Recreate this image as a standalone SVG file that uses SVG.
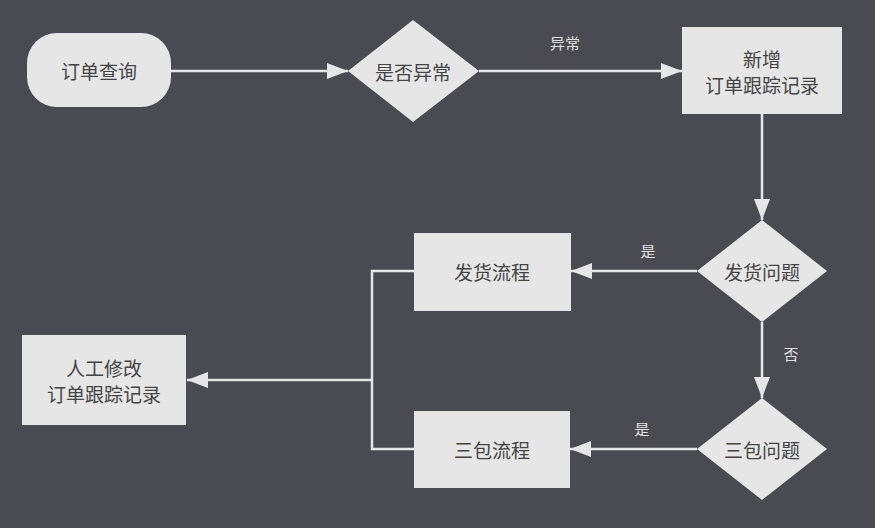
<svg xmlns="http://www.w3.org/2000/svg" width="875" height="528" viewBox="0 0 875 528">
<style>
.node{fill:#e6e6e6;stroke:none}
.t{font-family:"Noto Sans CJK SC","Liberation Sans",sans-serif;font-size:19px;fill:#444;text-anchor:middle;dominant-baseline:central}
.lbl{font-family:"Noto Sans CJK SC","Liberation Sans",sans-serif;font-size:15px;fill:#e0e0e0;text-anchor:middle;dominant-baseline:central}
.c{fill:none;stroke:#e6e6e6;stroke-width:2.5}
</style>
<defs>
<marker id="ah" markerUnits="userSpaceOnUse" markerWidth="22" markerHeight="18" refX="21" refY="9" orient="auto">
<path d="M0,1 L21,9 L0,17 Z" fill="#e6e6e6"/>
</marker>
</defs>
<rect width="875" height="528" fill="#4a4b52"/>
<g id="connectors">
<path class="c" d="M171,71 H348" marker-end="url(#ah)"/>
<path class="c" d="M479,71 H682" marker-end="url(#ah)"/>
<path class="c" d="M762,114 V220" marker-end="url(#ah)"/>
<path class="c" d="M697,271 H571" marker-end="url(#ah)"/>
<path class="c" d="M762,322 V398" marker-end="url(#ah)"/>
<path class="c" d="M697,449 H570" marker-end="url(#ah)"/>
<path class="c" d="M415,271 H372 V449 H415"/>
<path class="c" d="M372,380 H187" marker-end="url(#ah)"/>
<text class="lbl" x="565" y="42">异常</text>
<text class="lbl" x="648" y="250">是</text>
<text class="lbl" x="791" y="353">否</text>
<text class="lbl" x="642" y="428">是</text>
</g>
<g id="n1">
<rect class="node" x="27" y="33" width="144" height="74" rx="30"/>
<text class="t" x="99" y="70">订单查询</text>
</g>
<g id="n2">
<path class="node" d="M413,20 L479,71 L413,122 L348,71 Z"/>
<text class="t" x="413" y="71">是否异常</text>
</g>
<g id="n3">
<rect class="node" x="682" y="27" width="160" height="87"/>
<text class="t" x="762" y="58">新增</text>
<text class="t" x="762" y="84">订单跟踪记录</text>
</g>
<g id="n4">
<path class="node" d="M762,220 L827,271 L762,322 L697,271 Z"/>
<text class="t" x="762" y="271">发货问题</text>
</g>
<g id="n5">
<path class="node" d="M762,398 L827,449 L762,500 L697,449 Z"/>
<text class="t" x="762" y="449">三包问题</text>
</g>
<g id="n6">
<rect class="node" x="414" y="233" width="157" height="78"/>
<text class="t" x="492" y="271">发货流程</text>
</g>
<g id="n7">
<rect class="node" x="414" y="411" width="156" height="77"/>
<text class="t" x="492" y="449">三包流程</text>
</g>
<g id="n8">
<rect class="node" x="22" y="335" width="164" height="90"/>
<text class="t" x="104" y="367">人工修改</text>
<text class="t" x="104" y="393">订单跟踪记录</text>
</g>
</svg>
